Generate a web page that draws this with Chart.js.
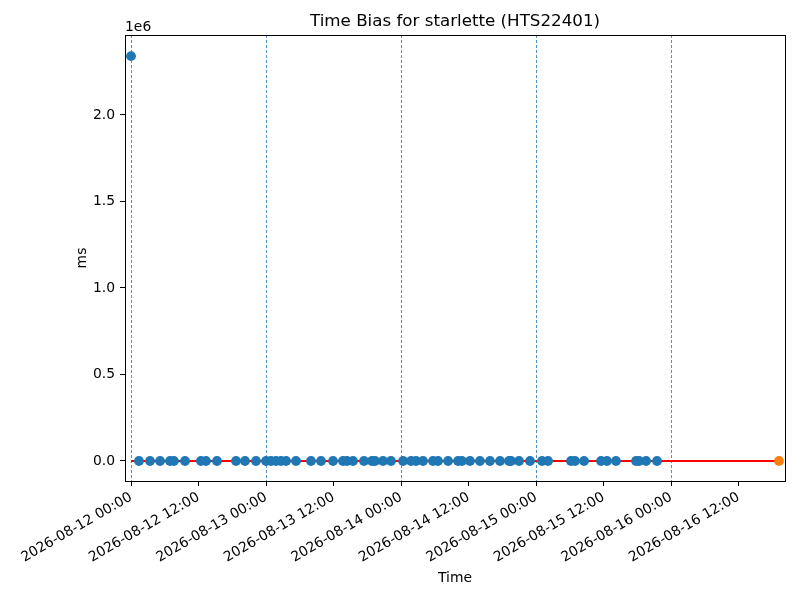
<!DOCTYPE html>
<html><head><meta charset="utf-8">
<script src="https://cdn.jsdelivr.net/npm/chart.js@4.4.0/dist/chart.umd.min.js"></script>
<style>html,body{margin:0;padding:0;background:#fff}</style>
</head><body>
<canvas id="c" width="800" height="600" style="width:800px;height:600px;display:block"></canvas>
<script>
const chartTitle = "Time Bias for starlette (HTS22401)";
const xTitle = "Time";
const yTitle = "ms";
const yExponentLabel = "1e6";

const biasTimes = [
  "2026-08-12 00:00","2026-08-12 01:25","2026-08-12 03:23","2026-08-12 05:10","2026-08-12 06:56",
  "2026-08-12 07:38","2026-08-12 09:36","2026-08-12 12:26","2026-08-12 13:20","2026-08-12 15:17",
  "2026-08-12 18:40","2026-08-12 20:16","2026-08-12 22:13","2026-08-13 00:00","2026-08-13 00:53",
  "2026-08-13 01:47","2026-08-13 02:40","2026-08-13 03:34","2026-08-13 05:20","2026-08-13 08:00",
  "2026-08-13 09:47","2026-08-13 11:55","2026-08-13 13:41","2026-08-13 14:24","2026-08-13 15:28",
  "2026-08-13 17:25","2026-08-13 18:50","2026-08-13 19:23","2026-08-13 20:48","2026-08-13 22:13",
  "2026-08-14 00:22","2026-08-14 01:47","2026-08-14 02:40","2026-08-14 03:55","2026-08-14 05:41",
  "2026-08-14 06:35","2026-08-14 08:22","2026-08-14 10:08","2026-08-14 10:50","2026-08-14 12:16",
  "2026-08-14 14:02","2026-08-14 15:49","2026-08-14 17:36","2026-08-14 19:12","2026-08-14 19:34",
  "2026-08-14 20:59","2026-08-14 22:56","2026-08-15 01:04","2026-08-15 02:08","2026-08-15 06:13",
  "2026-08-15 06:56","2026-08-15 08:32","2026-08-15 11:34","2026-08-15 12:37","2026-08-15 14:13",
  "2026-08-15 17:47","2026-08-15 18:20","2026-08-15 19:34","2026-08-15 21:31"
];
const biasValues = [
  2340000,0,0,0,0, 0,0,0,0,0, 0,0,0,0,0, 0,0,0,0,0, 0,0,0,0,0, 0,0,0,0,0,
  0,0,0,0,0, 0,0,0,0,0, 0,0,0,0,0, 0,0,0,0,0, 0,0,0,0,0, 0,0,0,0
];
const refTimes = ["2026-08-16 19:12"];
const refValues = [0];
const fitTimes = ["2026-08-12 00:00","2026-08-16 19:12"];
const fitValues = [0, 0];

const xTickTimes = ["2026-08-12 00:00","2026-08-12 12:00","2026-08-13 00:00","2026-08-13 12:00",
  "2026-08-14 00:00","2026-08-14 12:00","2026-08-15 00:00","2026-08-15 12:00","2026-08-16 00:00","2026-08-16 12:00"];
const yTickValues = [0, 500000, 1000000, 1500000, 2000000];
const xRange = ["2026-08-11 22:56","2026-08-16 20:16"];
const yRange = [-115600, 2462000];

function toMs(s){
  const [d,t] = s.split(' ');
  const [Y,M,D] = d.split('-').map(Number);
  const [h,m] = t.split(':').map(Number);
  return Date.UTC(Y, M-1, D, h, m);
}
function pad(n){ return (n<10?'0':'') + n; }
function fmt(ms){
  const d = new Date(ms);
  return d.getUTCFullYear()+'-'+pad(d.getUTCMonth()+1)+'-'+pad(d.getUTCDate())+' '+pad(d.getUTCHours())+':'+pad(d.getUTCMinutes());
}
const pts = (ts, vs) => ts.map((t,i)=>({x: toMs(t), y: vs[i]}));

const FONT = "'DejaVu Sans', sans-serif";
Chart.defaults.font.family = FONT;
Chart.defaults.font.size = 13.9;
Chart.defaults.color = '#000';

const framePlugin = {
  id: 'frame',
  afterDraw(chart){
    const {ctx, chartArea: a} = chart;
    ctx.save();
    ctx.strokeStyle = '#000';
    ctx.lineWidth = 1;
    ctx.strokeRect(Math.round(a.left)+0.5, Math.round(a.top)+0.5, Math.round(a.right-a.left), Math.round(a.bottom-a.top));
    ctx.fillStyle = '#000';
    ctx.font = "13.9px " + FONT;
    ctx.textAlign = 'left';
    ctx.textBaseline = 'bottom';
    ctx.fillText(yExponentLabel, a.left, a.top - 1);
    ctx.restore();
  }
};

new Chart(document.getElementById('c'), {
  type: 'scatter',
  data: {
    datasets: [
      { label: 'bias', data: pts(biasTimes, biasValues), backgroundColor: '#1f77b4', borderColor: '#1f77b4',
        pointRadius: 4.9, pointBorderWidth: 0, pointHoverRadius: 4.9, order: 1 },
      { label: 'ref', data: pts(refTimes, refValues), backgroundColor: '#ff7f0e', borderColor: '#ff7f0e',
        pointRadius: 4.9, pointBorderWidth: 0, order: 0 },
      { label: 'fit', data: pts(fitTimes, fitValues), showLine: true, borderColor: '#ff0000', borderWidth: 2,
        pointRadius: 0, backgroundColor: '#ff0000', order: 2 }
    ]
  },
  options: {
    responsive: false,
    animation: false,
    devicePixelRatio: 1,
    layout: { padding: { left: 70, right: 15, top: 0, bottom: 8 } },
    plugins: {
      legend: { display: false },
      tooltip: { enabled: false },
      title: { display: true, text: chartTitle, fullSize: false, color: '#000',
        font: { size: 16.7, weight: 'normal', family: FONT }, padding: { top: 12, bottom: 3 } }
    },
    scales: {
      x: {
        type: 'linear',
        min: toMs(xRange[0]), max: toMs(xRange[1]),
        afterBuildTicks: s => { s.ticks = xTickTimes.map(t => ({ value: toMs(t) })); },
        afterFit: s => { s.height = 111; },
        ticks: { autoSkip: false, minRotation: 30, maxRotation: 30, padding: 3, color: '#000',
          callback: v => fmt(v) },
        grid: {
          color: c => (c.tick && c.tick.value % 86400000 === 0) ? '#1f77b4' : 'rgba(0,0,0,0)',
          lineWidth: 0.8, tickColor: '#000', tickLength: 5, tickWidth: 1, drawOnChartArea: true
        },
        border: { display: true, color: '#000', width: 1, dash: [3, 2] },
        title: { display: true, text: xTitle, color: '#000', font: { size: 13.9 }, padding: { top: 0, bottom: 5 } }
      },
      y: {
        type: 'linear',
        min: yRange[0], max: yRange[1],
        afterBuildTicks: s => { s.ticks = yTickValues.map(v => ({ value: v })); },
        afterFit: s => { s.width = 55; },
        ticks: { padding: 5, color: '#000', callback: v => (v / 1e6).toFixed(1) },
        grid: { drawOnChartArea: false, tickColor: '#000', tickLength: 5, tickWidth: 1 },
        border: { display: true, color: '#000', width: 1 },
        title: { display: true, text: yTitle, color: '#000', font: { size: 13.9 }, padding: { top: 4, bottom: 0 } }
      }
    }
  },
  plugins: [framePlugin]
});
</script>
</body></html>
